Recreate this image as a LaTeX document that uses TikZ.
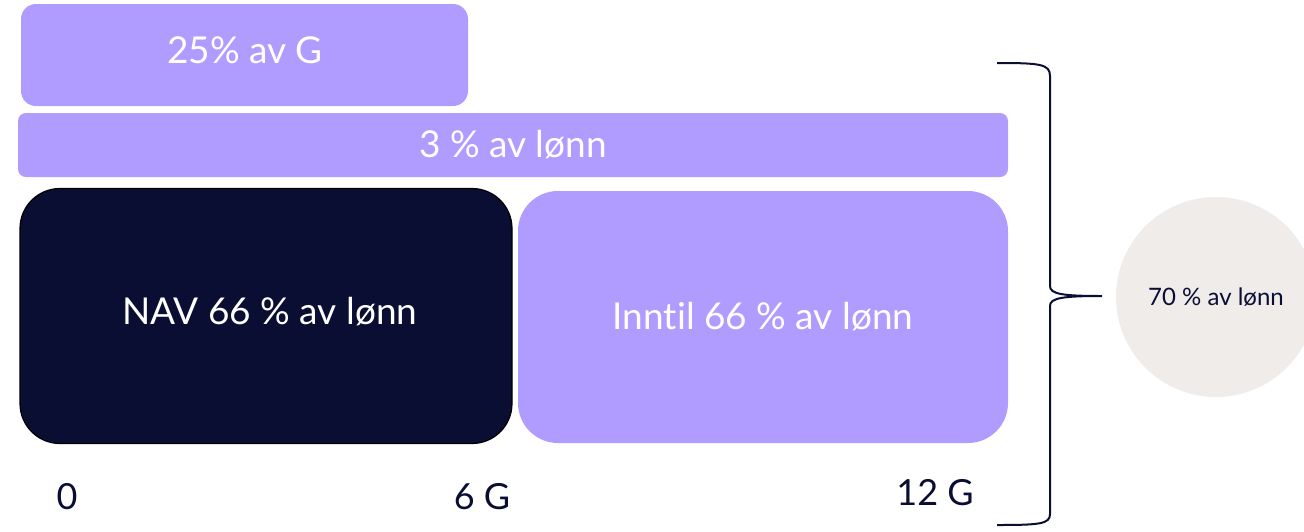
\documentclass[tikz,border=0pt]{standalone}
\usepackage{fontspec}
\setmainfont{Lato}[Ligatures=NoCommon]
\usepackage{xcolor}
\usetikzlibrary{calc}
\definecolor{lilla}{HTML}{B09CFF}
\definecolor{natt}{HTML}{0B0E33}
\definecolor{sand}{HTML}{EFECEA}

\begin{document}
\begin{tikzpicture}[x=1pt,y=-1pt]
  % `bar' is used for the purple blocks, `navbar' for the dark NAV block.
  % `axis' is used for the G labels under the blocks.
  \tikzstyle{bar} = [fill=lilla,text=white,font=\fontsize{37}{44}\selectfont,inner sep=0pt]
  \tikzstyle{navbar} = [bar,fill=natt,draw=black,line width=1.2pt]
  \tikzstyle{axis} = [text=natt,font=\fontsize{36}{42}\selectfont,inner sep=0pt]
  \tikzstyle{total} = [circle,fill=sand,text=natt,minimum size=200pt,font=\fontsize{24}{28}\selectfont]
  \useasboundingbox (0,0) rectangle (1304,531);
  \clip (0,0) rectangle (1304,531);
  %
  \node[bar,rounded corners=15pt,minimum width=447pt,minimum height=102pt] (g25) at (244.5,55) {};
  \node[text=white,font=\fontsize{37}{44}\selectfont] at (245,50) {25\% av G};
  \node[bar,rounded corners=8pt,minimum width=990pt,minimum height=64pt] (lonn3) at (513,145) {3 \% av lønn};
  \node[navbar,rounded corners=40pt,minimum width=492pt,minimum height=255pt] (nav) at (266,316) {};
  \node[text=white,font=\fontsize{37}{44}\selectfont] at (270,312) {NAV 66 \% av lønn};
  \node[bar,rounded corners=40pt,minimum width=490pt,minimum height=252pt] (inntil) at (763,317) {Inntil 66 \% av lønn};
  % G labels.
  \node[axis] (g0) at (67,497) {0};
  \node[axis] (g6) at (482,497) {6 G};
  \node[axis] (g12) at (935,493) {12 G};
  % Brace and total.
  \node[total] (sum) at (1216,297) {70 \% av lønn};
  \coordinate (btop) at (997,63);
  \coordinate (btip) at (1102,296);
  \coordinate (bbot) at (997,525);
  \draw[natt,line width=2pt] (btop) .. controls (1040,63) and (1050,64) .. (1050,76)
    -- (1050,286) .. controls (1050,294) and (1062,296) .. (btip)
    .. controls (1062,296) and (1050,298) .. (1050,306)
    -- (1050,514) .. controls (1050,524) and (1040,525) .. (bbot);
\end{tikzpicture}
\end{document}
